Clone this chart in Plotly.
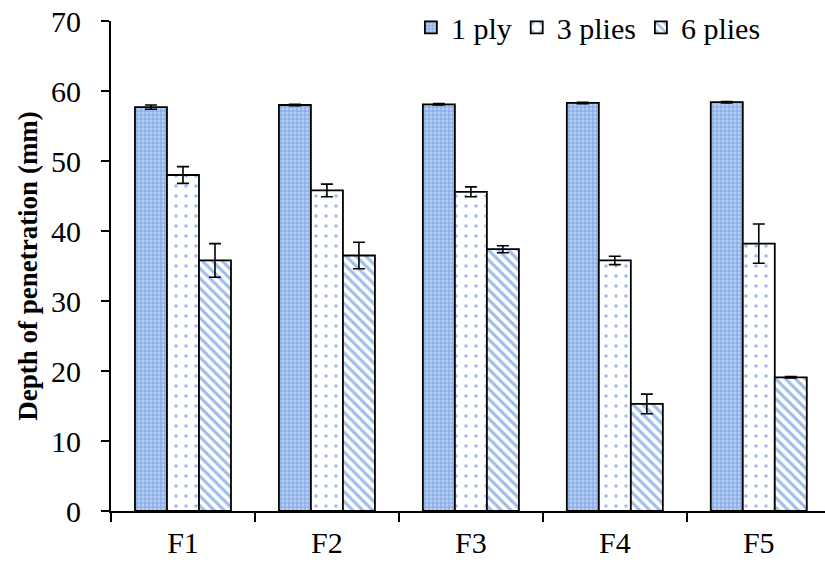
import plotly.graph_objects as go

categories = ["F1", "F2", "F3", "F4", "F5"]
series_names = ["1 ply", "3 plies", "6 plies"]
ply1 = [57.7, 58.0, 58.1, 58.3, 58.4]
ply1_err = [0.3, 0.1, 0.1, 0.1, 0.1]
ply3 = [48.0, 45.8, 45.6, 35.8, 38.2]
ply3_err = [1.2, 0.9, 0.7, 0.6, 2.8]
ply6 = [35.8, 36.5, 37.4, 15.3, 19.1]
ply6_err = [2.4, 1.9, 0.5, 1.4, 0.1]
y_ticks = [0, 10, 20, 30, 40, 50, 60, 70]

FONT = "Liberation Serif, Times New Roman, serif"
BLUE = "#3f7ad8"

patterns = [
    dict(shape="+", fgcolor=BLUE, bgcolor="#b9d0f2", size=4, solidity=0.45),
    dict(shape=".", fgcolor=BLUE, bgcolor="white", size=10, solidity=0.1),
    dict(shape="\\", fgcolor=BLUE, bgcolor="white", size=7, solidity=0.45),
]

fig = go.Figure()
for name, vals, errs, pat in zip(series_names, [ply1, ply3, ply6],
                                 [ply1_err, ply3_err, ply6_err], patterns):
    fig.add_trace(go.Bar(
        name=name, x=categories, y=vals,
        marker=dict(color="white", pattern=pat,
                    line=dict(color="black", width=1.8)),
        error_y=dict(type="data", array=errs, color="black",
                     thickness=1.6, width=6),
    ))

fig.update_layout(
    width=825, height=565,
    margin=dict(l=111, r=0, t=21, b=54),
    paper_bgcolor="white", plot_bgcolor="white",
    barmode="group", bargap=0.333, bargroupgap=0,
    font=dict(family=FONT, size=30, color="black"),
    legend=dict(orientation="h", x=0.42, xanchor="left", y=1.04,
                yanchor="top", font=dict(family=FONT, size=30),
                bgcolor="rgba(0,0,0,0)", itemwidth=30, tracegroupgap=0),
    showlegend=True,
)
fig.update_xaxes(
    range=[-0.5, 4.46], showline=True, linecolor="black", linewidth=2,
    ticks="outside", tickson="boundaries", ticklen=9, tickwidth=2,
    tickcolor="black", showgrid=False, tickfont=dict(family=FONT, size=30),
    ticklabelstandoff=4,
)
fig.update_yaxes(
    range=[0, 70], tickvals=y_ticks, showline=True, linecolor="black",
    linewidth=2, ticks="outside", ticklen=8, tickwidth=2, tickcolor="black",
    showgrid=False, zeroline=False, tickfont=dict(family=FONT, size=30),
    ticklabelstandoff=14,
    title=dict(text="<b>Depth of penetration (mm)</b>",
               font=dict(family=FONT, size=27), standoff=6),
)

fig.write_html("out.html")
